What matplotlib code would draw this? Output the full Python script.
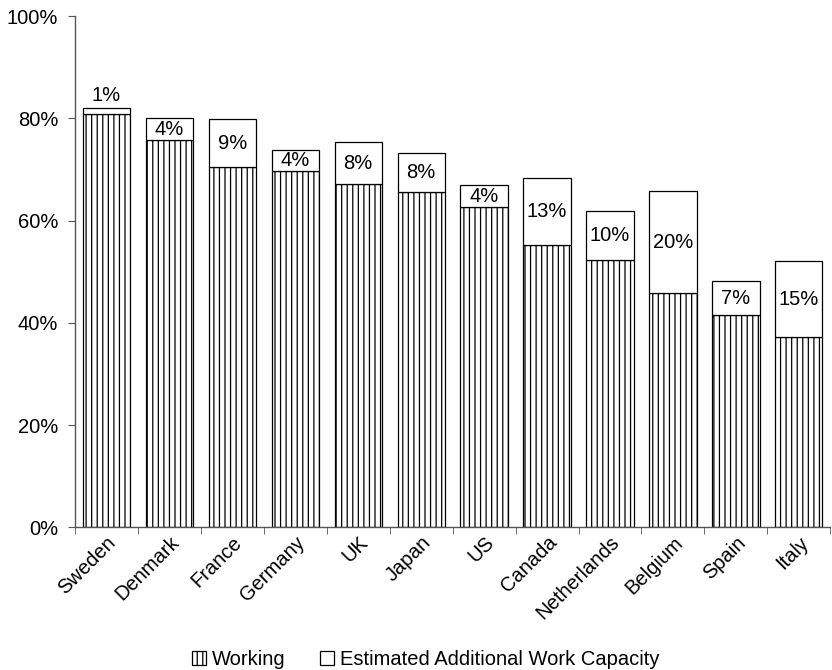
import matplotlib
matplotlib.use('Agg')
import matplotlib.pyplot as plt
import numpy as np

countries = ['Sweden', 'Denmark', 'France', 'Germany', 'UK', 'Japan',
             'US', 'Canada', 'Netherlands', 'Belgium', 'Spain', 'Italy']
working = [80.8, 75.7, 70.5, 69.6, 67.1, 65.6, 62.6, 55.2, 52.3, 45.8, 41.5, 37.2]
additional = [1.2, 4.4, 9.3, 4.3, 8.3, 7.6, 4.4, 13.1, 9.5, 20.0, 6.6, 14.8]
add_labels = ['1%', '4%', '9%', '4%', '8%', '8%', '4%', '13%', '10%', '20%', '7%', '15%']

plt.rcParams['font.family'] = ['Liberation Sans', 'DejaVu Sans']
plt.rcParams['font.size'] = 14.5
plt.rcParams['hatch.linewidth'] = 0.9

fig = plt.figure(figsize=(8.32, 6.70), dpi=100)
ax = fig.add_axes([0.090, 0.213, 0.908, 0.763])

x = np.arange(len(countries))
w = 0.75
b1 = ax.bar(x, working, w, color='white', edgecolor='black', linewidth=0.9,
            hatch='|||', label='Working')
b2 = ax.bar(x, additional, w, bottom=working, color='white', edgecolor='black',
            linewidth=0.9, label='Estimated Additional Work Capacity')

for i in range(len(countries)):
    top = working[i] + additional[i]
    if additional[i] < 2:
        ax.text(x[i], top + 0.6, add_labels[i], ha='center', va='bottom')
    else:
        ax.text(x[i], working[i] + additional[i] / 2, add_labels[i],
                ha='center', va='center')

ax.set_xlim(-0.5, len(countries) - 0.5)
ax.set_ylim(0, 100)
ax.set_yticks(np.arange(0, 101, 20))
ax.set_yticklabels(['%d%%' % v for v in range(0, 101, 20)])
ax.set_xticks(x)
ax.set_xticklabels(countries, rotation=45, ha='right', rotation_mode='anchor')
ax.set_xticks(np.arange(-0.5, len(countries) - 0.4, 1), minor=True)
ax.tick_params(axis='x', which='major', length=0, pad=4)
ax.tick_params(axis='x', which='minor', length=5, direction='out', color='#555555')
ax.tick_params(axis='y', length=5, direction='out', color='#555555', pad=7)

for s in ['top', 'right']:
    ax.spines[s].set_visible(False)
for s in ['left', 'bottom']:
    ax.spines[s].set_color('#555555')
    ax.spines[s].set_linewidth(1.0)

fig.legend(handles=[b1, b2], loc='center', bbox_to_anchor=(0.512, 0.016),
           ncol=2, frameon=False, handlelength=0.7, handleheight=0.7,
           handletextpad=0.3, columnspacing=1.7)

plt.savefig('out.png', dpi=100)
